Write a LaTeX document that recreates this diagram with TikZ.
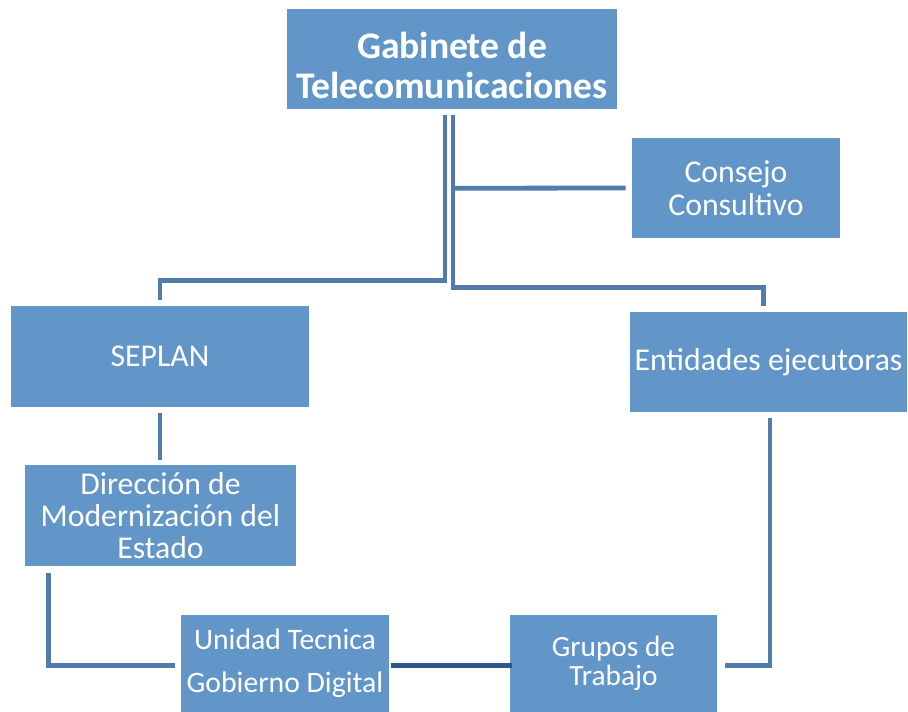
\documentclass[tikz,border=0pt]{standalone}
\usepackage{fontspec}
\setmainfont{Carlito}
\usetikzlibrary{calc}
\definecolor{boxblue}{RGB}{98,150,200}
\definecolor{linkblue}{RGB}{79,124,170}
\definecolor{darklink}{RGB}{44,88,138}

\begin{document}
\begin{tikzpicture}[x=0.75pt, y=-0.75pt,
  box/.style={rectangle, fill=boxblue, text=white, align=center, inner sep=0pt,
    font=\fontsize{23.8}{24.5}\selectfont},
  link/.style={draw=linkblue, line width=3.6pt}]
\useasboundingbox (0,0) rectangle (908,712);

% Boxes
\node[box, minimum width=330*0.75pt, minimum height=100*0.75pt,
  text height=64pt, text depth=5pt,
  font=\bfseries\fontsize{28.2}{30}\selectfont] (gab) at (452,59)
  {Gabinete de\\Telecomunicaciones};
\node[box, minimum width=208*0.75pt, minimum height=100*0.75pt] (cons) at (736,188)
  {Consejo\\Consultivo};
\node[box, minimum width=298*0.75pt, minimum height=101*0.75pt] (seplan) at (160,356.5)
  {SEPLAN};
\node[box, minimum width=277*0.75pt, minimum height=100*0.75pt] (ent) at (768.5,362)
  {Entidades ejecutoras};
\node[box, minimum width=271*0.75pt, minimum height=101*0.75pt,
  font=\fontsize{23.8}{24}\selectfont] (dir) at (160.5,515.5)
  {Dirección de\\Modernización del\\Estado};
\node[box, minimum width=208*0.75pt, minimum height=97*0.75pt,
  font=\fontsize{22.3}{32}\selectfont] (uni) at (285,663.5)
  {Unidad Tecnica\\Gobierno Digital};
\node[box, minimum width=207*0.75pt, minimum height=97*0.75pt,
  font=\fontsize{22}{22}\selectfont] (grp) at (613.5,663.5)
  {Grupos de\\Trabajo};

% Links from the top
\draw[link] ($(gab.south)+(-7,6)$) |- ($(seplan.north)+(0,-25)$) -- ($(seplan.north)+(0,-6)$);
\draw[link] ($(gab.south)+(1,6)$) |- ($(ent.north)+(-5,-24)$) -- ($(ent.north)+(-5,-6)$);
\draw[link] ($(gab.south)+(1,79)$) -- ($(cons.west)+(-6,0)$);

% Left branch
\draw[link] ($(seplan.south)+(0,6)$) -- ($(dir.north)+(-0.5,-5)$);
\draw[link] ($(dir.south west)+(24,7)$) |- ($(uni.west)+(-6,2)$);

% Bottom
\draw[draw=darklink, line width=4pt] ($(uni.east)+(2,2)$) -- ($(grp.west)+(2,2)$);
\draw[link] ($(grp.east)+(8,2)$) -| ($(ent.south)+(1.5,6)$);
\end{tikzpicture}
\end{document}
